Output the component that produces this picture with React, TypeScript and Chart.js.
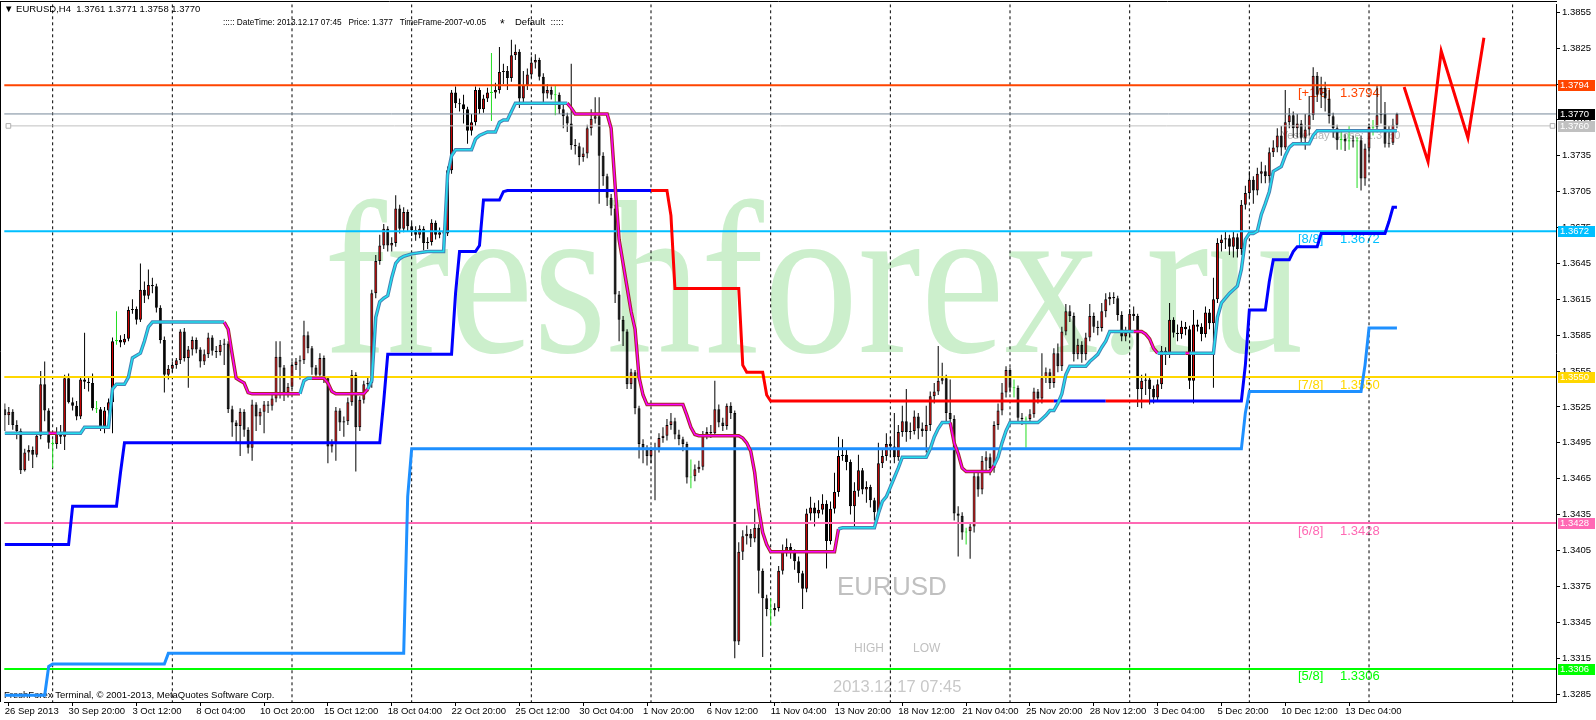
import React, { useEffect, useRef } from 'react';
import { Chart, registerables } from 'chart.js';

Chart.register(...registerables);

// ---------------- data (prices in pips above 1.3000) ----------------
const PIP = 0.0001;
const BASE = 1.3;
const firstOpenPips = 523;

const closePips = [
  518,521,510,505,472,487,489,485,501,544,
  522,495,494,504,500,549,529,526,517,548,
  546,545,524,523,509,522,529,580,581,579,
  582,606,607,598,623,618,627,626,608,581,
  552,557,560,564,588,566,573,581,573,563,
  569,583,572,571,577,578,523,512,509,521,
  506,491,527,517,521,527,526,532,567,558,
  537,542,560,563,564,585,574,558,552,566,
  549,492,495,522,512,513,529,552,508,531,
  544,545,620,647,660,674,660,662,691,674,
  688,676,673,669,674,662,663,679,669,671,
  670,723,788,779,778,774,756,763,790,774,
  783,788,788,790,805,806,800,819,822,783,
  794,803,813,815,801,787,790,786,786,774,
  768,762,744,743,734,737,758,766,768,735,
  718,700,691,619,598,588,544,554,524,494,
  491,484,489,491,499,501,510,513,502,498,
  494,466,467,473,475,502,504,503,523,512,
  509,526,520,329,404,417,419,415,424,388,
  365,356,355,357,388,404,408,403,396,386,
  373,436,441,436,439,444,413,440,454,484,
  485,479,442,455,472,456,458,447,437,478,
  484,494,492,483,504,513,504,505,517,507,
  505,510,534,538,547,549,520,515,436,434,
  420,421,425,467,456,480,483,474,510,522,
  537,556,541,541,516,515,515,519,538,532,
  549,554,545,570,559,588,605,601,569,577,
  569,583,601,592,591,605,615,617,616,602,
  584,587,603,601,540,547,548,540,533,544,
  572,569,598,587,586,592,590,547,594,592,
  586,604,595,615,662,665,666,659,667,657,
  694,704,715,706,720,722,718,738,742,752,
  742,763,769,758,762,750,757,769,802,786,
  792,783,768,758,748,749,747,748,747,748,
  716,741,759,759,769,770,745,746,761,770,
];

const highPips = [
  528,525,523,514,507,490,493,492,503,555,
  563,524,498,508,510,552,553,533,530,550,
  587,551,553,530,525,525,532,583,605,585,
  586,609,615,609,645,630,640,633,628,610,
  584,560,563,566,590,591,576,584,583,575,
  573,587,585,576,581,582,580,526,514,524,
  523,508,531,529,524,530,530,536,580,580,
  560,545,563,566,568,597,588,576,560,570,
  568,551,498,525,524,517,533,556,554,534,
  547,551,623,652,669,678,676,667,702,694,
  692,690,679,676,677,676,667,682,681,675,
  674,726,790,793,783,786,776,770,793,792,
  786,792,821,796,826,812,810,832,828,824,
  806,808,818,820,817,804,795,793,794,788,
  778,771,812,749,746,742,761,774,784,784,
  738,720,703,694,622,601,590,557,556,526,
  498,493,492,495,503,508,515,520,516,506,
  500,496,481,477,480,505,508,510,547,527,
  516,528,529,522,412,422,426,423,440,427,
  390,368,365,361,392,410,415,411,406,400,
  388,440,450,445,447,452,447,446,470,500,
  498,489,481,462,485,474,463,460,449,495,
  489,503,500,520,510,526,540,512,522,520,
  512,526,538,545,576,562,552,548,518,442,
  437,424,428,472,470,484,488,486,513,528,
  545,559,558,548,543,520,517,523,541,540,
  570,558,557,574,578,592,611,610,604,582,
  580,587,611,604,597,612,620,621,621,618,
  605,592,607,609,603,552,553,550,543,548,
  576,575,612,600,594,597,596,593,606,598,
  595,609,607,633,666,669,672,669,672,670,
  698,710,722,718,725,730,727,742,748,758,
  760,790,775,772,770,765,770,785,809,805,
  801,797,790,771,761,756,753,760,752,751,
  752,745,762,765,794,794,780,760,766,771,
];

const lowPips = [
  505,510,506,498,469,471,480,474,483,498,
  513,490,474,490,494,489,528,522,514,515,
  540,538,522,520,505,503,517,503,577,575,
  577,580,603,594,596,612,615,620,604,578,
  537,548,554,557,561,563,541,568,570,558,
  560,566,568,566,568,560,520,500,495,484,
  500,486,480,505,510,503,520,522,529,532,
  530,533,540,556,548,561,570,552,548,550,
  545,478,487,480,505,500,510,526,471,505,
  528,538,541,616,644,657,655,655,659,670,
  671,672,668,664,666,656,657,660,665,666,
  665,668,720,775,772,762,745,752,760,770,
  771,780,764,783,787,795,790,797,815,775,
  780,790,800,808,798,779,783,782,769,770,
  758,755,740,736,727,730,733,752,762,695,
  710,693,685,612,580,576,540,540,519,482,
  478,476,478,447,487,495,497,506,498,493,
  488,461,457,463,470,472,498,499,500,508,
  505,506,515,315,326,397,410,408,412,369,
  316,350,342,350,354,385,400,398,389,378,
  356,370,430,425,432,435,390,410,436,450,
  480,472,435,425,450,452,445,441,430,433,
  474,480,483,478,480,500,496,498,502,498,
  500,487,505,528,535,544,512,510,430,400,
  414,410,398,420,450,452,470,468,470,506,
  518,533,537,533,512,510,491,512,516,528,
  528,545,540,541,554,555,585,596,563,565,
  562,564,580,587,585,588,600,610,611,597,
  580,580,583,597,525,524,535,527,528,530,
  540,560,566,583,580,582,585,540,528,588,
  580,583,590,541,612,655,657,652,650,650,
  652,690,700,695,702,712,712,712,734,738,
  735,740,758,750,750,745,740,752,765,780,
  775,772,762,750,740,740,739,740,742,708,
  706,710,730,752,755,762,742,742,744,758,
];

const dojiBars = [12, 23, 28, 122, 138, 172, 192, 241, 253, 256, 335, 337, 339, 343];

const xTickBars = [1,17,33,49,65,81,97,113,129,145,161,177,193,209,225,241,257,273,289,305,321,337];
const xTickLabels = [
  '26 Sep 2013','30 Sep 20:00','3 Oct 12:00','8 Oct 04:00','10 Oct 20:00','15 Oct 12:00',
  '18 Oct 04:00','22 Oct 20:00','25 Oct 12:00','30 Oct 04:00','1 Nov 20:00','6 Nov 12:00',
  '11 Nov 04:00','13 Nov 20:00','18 Nov 12:00','21 Nov 04:00','25 Nov 20:00','28 Nov 12:00',
  '3 Dec 04:00','5 Dec 20:00','10 Dec 12:00','13 Dec 04:00',
];
const yTickValues = [
  1.3285,1.3315,1.3345,1.3375,1.3405,1.3435,1.3465,1.3495,1.3525,1.3555,
  1.3585,1.3615,1.3645,1.3675,1.3705,1.3735,1.3765,1.3795,1.3825,1.3855,
];
const weekSeparatorBars = [12,42,72,102,132,162,192,222,252,282,312,342,378];

// stepped trailing line [bar, pips]
const trailLine = [
  [0,503],[11,503],[13,503],[19,503],[20,508],[26,508],[27,540],[28,544],[30,544],[31,550],
  [32,566],[34,570],[35,580],[36,592],[37,596],[55,596],[56,590],[57,569],[58,549],[59,547],
  [60,545],[61,537],[62,536],[74,536],[75,547],[76,549],[77,549],[80,549],[81,545],[82,538],
  [83,536],[90,536],[91,540],[92,547],[93,600],[94,613],[95,616],[96,618],[97,633],[98,645],
  [99,649],[100,651],[102,653],[106,655],[110,655],[111,719],[112,735],[113,740],[117,740],[118,749],
  [119,752],[121,755],[123,755],[124,763],[125,765],[126,765],[127,772],[128,779],[141,779],[142,775],
  [143,770],[151,770],[152,758],[153,710],[154,665],[155,645],[156,625],[157,605],[158,590],[159,550],
  [160,535],[161,527],[170,527],[171,518],[172,508],[173,502],[174,501],[184,501],[185,499],[186,495],
  [187,488],[188,470],[189,440],[190,420],[191,410],[192,404],[208,404],[209,423],[210,424],[218,424],
  [219,436],[220,446],[221,450],[222,458],[223,466],[224,474],[225,483],[231,483],[232,490],[233,500],
  [234,507],[235,512],[237,512],[238,495],[239,486],[240,474],[241,471],[247,471],[248,476],[249,483],
  [250,495],[251,505],[252,512],[259,512],[260,515],[261,518],[262,522],[263,522],[264,528],[265,536],
  [266,552],[267,559],[271,559],[272,563],[273,566],[274,569],[275,575],[276,580],[277,588],[283,588],
  [285,588],[286,586],[287,582],[288,574],[289,570],[296,570],[297,570],[303,570],[304,600],[305,612],
  [306,616],[307,620],[308,623],[309,626],[310,640],[311,665],[312,670],[313,670],[314,672],[315,686],
  [316,695],[317,705],[318,722],[319,724],[320,726],[321,735],[322,742],[323,745],[327,745],[328,752],
  [329,756],[349,756],
];
const trailDownRanges = [[11,13],[55,74],[77,91],[141,209],[237,248],[283,289],[296,297]];

// channel line (blue / red) [bar, pips]
const channelLine = [
  [0,410],[16,410],[17,442],[28,442],[29,470],[30,495],[94,495],[95,530],[96,569],[112,569],
  [113,620],[114,655],[118,655],[119,660],[120,698],[124,698],[125,705],[126,706],[162,706],[166,706],
  [167,685],[168,624],[184,624],[185,560],[186,554],[190,554],[191,535],[192,530],[263,530],[276,530],
  [287,530],[310,530],[311,560],[312,606],[316,606],[317,630],[318,648],[322,648],[323,655],[324,659],
  [329,659],[330,670],[346,670],[347,680],[348,692],[349,692],
];
const channelRedRanges = [[162,263],[276,287]];

// dodger-blue support line [bar, pips]
const supportLine = [
  [0,284],[10,284],[11,308],[12,310],[40,310],[41,319],[100,319],[101,450],[102,490],[310,490],
  [311,520],[312,538],[340,538],[341,560],[342,591],[349,591],
];

// forecast zigzag [bar, pips]
const zigzagLine = [[350.8,792.5],[356.8,730],[360.1,822.6],[366.8,750],[370.8,833.7]];

const murreyPips = [794, 672, 550, 428, 306];
const murreyTags = ['[+1/8]', '[8/8]', '[7/8]', '[6/8]', '[5/8]'];
const bidPips = 770;
const yesterdayClosePips = 760;

// ---------------- helpers & styles ----------------
const toPrice = (p: number) => BASE + p * PIP;
const Y_MAX = 1.3861667;
const Y_MIN = 1.3278333;

const murreyColors = ['#ff4500', '#00bfff', '#ffd700', '#ff69b4', '#00ff00'];
const axisBoxPips = [794, 770, 760, 672, 550, 428, 306];
const axisBoxColors = ['#ff4500', '#000000', '#c0c0c0', '#00bfff', '#ffd700', '#ff69b4', '#00ff00'];

const inRanges = (x: number, ranges: number[][]) => ranges.some(([a, b]) => x >= a && x <= b);

const lineDs = (data: any[], extra: any) => ({
  type: 'line',
  data,
  pointRadius: 0,
  pointHoverRadius: 0,
  tension: 0,
  fill: false,
  borderCapStyle: 'butt',
  spanGaps: false,
  ...extra,
});

function buildDatasets() {
  const wickData: any[] = [];
  const bodyData: any[] = [];
  const wickColors: string[] = [];
  const bodyBg: string[] = [];
  const bodyBorder: string[] = [];
  closePips.forEach((c, i) => {
    const o = i === 0 ? firstOpenPips : closePips[i - 1];
    const doji = dojiBars.includes(i);
    wickData.push({ x: i, y: [toPrice(lowPips[i]), toPrice(highPips[i])] });
    if (doji) {
      const m = (o + c) / 2;
      bodyData.push({ x: i, y: [toPrice(m - 0.45), toPrice(m + 0.45)] });
      wickColors.push('#22dd22');
      bodyBg.push('#22dd22');
      bodyBorder.push('#22dd22');
    } else {
      bodyData.push({ x: i, y: [toPrice(o), toPrice(c)] });
      wickColors.push('#000000');
      bodyBg.push(c > o ? '#d40000' : '#000000');
      bodyBorder.push('#000000');
    }
  });

  const sepData: any[] = [];
  weekSeparatorBars.forEach((b) => {
    sepData.push({ x: b, y: Y_MAX }, { x: b, y: Y_MIN }, { x: b, y: null });
  });

  const pts = (arr: number[][]) => arr.map(([x, p]) => ({ x, y: toPrice(p) }));
  const hline = (p: number, color: string, width: number, order: number) =>
    lineDs([{ x: -1, y: toPrice(p) }, { x: 391, y: toPrice(p) }], { borderColor: color, borderWidth: width, order });

  const trailColor = (ctx: any, down: string, up: string) =>
    inRanges((ctx.p0.parsed.x + ctx.p1.parsed.x) / 2, trailDownRanges) ? down : up;

  return [
    lineDs(sepData, { borderColor: '#000', borderWidth: 1, borderDash: [3, 3], order: 20 }),
    {
      type: 'bar', data: wickData, backgroundColor: wickColors, borderWidth: 0,
      barThickness: 1, grouped: false, inflateAmount: 0, order: 19,
    },
    {
      type: 'bar', data: bodyData, backgroundColor: bodyBg, borderColor: bodyBorder, borderWidth: 1,
      borderSkipped: false, barThickness: 3, grouped: false, inflateAmount: 0, order: 18,
    },
    hline(murreyPips[0], '#ff4500', 2, 17),
    hline(bidPips, '#778899', 1, 17),
    lineDs([{ x: 0.9, y: toPrice(yesterdayClosePips) }, { x: 388, y: toPrice(yesterdayClosePips) }], {
      borderColor: '#c0c0c0', borderWidth: 1, pointRadius: 3.3, pointStyle: 'rect',
      pointBackgroundColor: '#ffffff', pointBorderColor: '#b0b0b0', pointBorderWidth: 1, order: 17,
    }),
    hline(murreyPips[1], '#00bfff', 2, 17),
    hline(murreyPips[2], '#ffd700', 2, 17),
    hline(murreyPips[3], '#ff69b4', 2, 17),
    hline(murreyPips[4], '#00ff00', 2, 17),
    lineDs(pts(supportLine), { borderColor: '#1e90ff', borderWidth: 3, order: 12 }),
    lineDs(pts(channelLine), {
      borderColor: '#0000ff', borderWidth: 3, order: 11,
      segment: {
        borderColor: (ctx: any) =>
          inRanges((ctx.p0.parsed.x + ctx.p1.parsed.x) / 2, channelRedRanges) ? '#ff0000' : '#0000ff',
      },
    }),
    lineDs(pts(trailLine), {
      borderColor: '#4682b4', borderWidth: 3.5, order: 10,
      segment: { borderColor: (ctx: any) => trailColor(ctx, '#a52a2a', '#4682b4') },
    }),
    lineDs(pts(trailLine), {
      borderColor: '#22e0f0', borderWidth: 1.5, order: 9,
      segment: { borderColor: (ctx: any) => trailColor(ctx, '#ff00ff', '#22e0f0') },
    }),
    lineDs(pts(zigzagLine), { borderColor: '#ff0000', borderWidth: 3, order: 8 }),
  ];
}

const overlayPlugin = {
  id: 'mt4Overlay',
  beforeDatasetsDraw(chart: any) {
    const { ctx } = chart;
    const ys = chart.scales.y;
    ctx.save();
    ctx.textAlign = 'left';
    ctx.textBaseline = 'alphabetic';
    ctx.fillStyle = '#ccefcc';
    ctx.font = '218px "Liberation Serif"';
    ctx.fillText('freshforex.ru', 324, 352, 979);

    ctx.fillStyle = '#c0c0c0';
    ctx.font = '26px "Liberation Sans"';
    ctx.fillText('EURUSD', 837, 595);
    ctx.font = '12px "Liberation Sans"';
    ctx.fillText('HIGH', 854, 652);
    ctx.fillText('LOW', 913, 652);
    ctx.fillStyle = '#c8c8c8';
    ctx.font = '16.5px "Liberation Sans"';
    ctx.fillText('2013.12.17 07:45', 833, 692);

    ctx.textBaseline = 'middle';
    ctx.font = '13px "Liberation Sans"';
    murreyPips.forEach((p, k) => {
      const y = ys.getPixelForValue(toPrice(p)) + 8;
      ctx.fillStyle = murreyColors[k];
      ctx.fillText(murreyTags[k], 1298, y);
      ctx.fillText(toPrice(p).toFixed(4), 1340, y);
    });

    ctx.fillStyle = '#b4b4b4';
    ctx.font = '11px "Liberation Sans"';
    ctx.fillText('Yesterday Close: ' + toPrice(yesterdayClosePips).toFixed(4), 1281,
      ys.getPixelForValue(toPrice(yesterdayClosePips)) + 10);

    ctx.fillStyle = '#000';
    ctx.font = '9.5px "Liberation Sans"';
    ctx.fillText('FreshForex Terminal, \u00a9 2001-2013, MetaQuotes Software Corp.', 4, 695);
    ctx.restore();
  },
  afterDraw(chart: any) {
    const { ctx, chartArea } = chart;
    const ys = chart.scales.y;
    ctx.save();
    ctx.strokeStyle = '#000';
    ctx.lineWidth = 1;
    ctx.beginPath();
    ctx.moveTo(0.5, 1.5);
    ctx.lineTo(0.5, chartArea.bottom);
    ctx.moveTo(0, 1.5);
    ctx.lineTo(chartArea.right + 1, 1.5);
    ctx.stroke();

    ctx.textAlign = 'left';
    ctx.textBaseline = 'middle';
    ctx.fillStyle = '#000';
    ctx.font = '9.5px "Liberation Sans"';
    ctx.fillText('\u25BC EURUSD,H4  1.3761 1.3771 1.3758 1.3770', 4, 9);
    ctx.fillText('::::: DateTime: 2013.12.17 07:45   Price: 1.377   TimeFrame-2007-v0.05', 223, 22, 263);
    ctx.fillText('Default  :::::', 515, 22);
    ctx.font = '12px "Liberation Sans"';
    ctx.fillText('*', 500, 25);

    ctx.font = '9.5px "Liberation Sans"';
    axisBoxPips.forEach((p, k) => {
      const y = Math.round(ys.getPixelForValue(toPrice(p)));
      ctx.fillStyle = axisBoxColors[k];
      ctx.fillRect(1558, y - 5, 37, 11);
      ctx.fillStyle = '#ffffff';
      ctx.fillText(toPrice(p).toFixed(4), 1560, y + 0.5);
    });
    ctx.restore();
  },
};

export default function App() {
  const ref = useRef<HTMLCanvasElement | null>(null);
  useEffect(() => {
    if (!ref.current) return;
    const chart = new Chart(ref.current, {
      type: 'bar',
      data: { datasets: buildDatasets() as any },
      options: {
        responsive: false,
        animation: false,
        events: [],
        layout: { padding: { top: 2, left: 0, right: 0, bottom: 0 } },
        plugins: { legend: { display: false }, tooltip: { enabled: false } },
        scales: {
          x: {
            type: 'linear',
            position: 'bottom',
            min: -0.125,
            max: 388.875,
            offset: false,
            grid: { display: true, offset: false, drawOnChartArea: false, drawTicks: true, tickLength: 4, color: '#000' },
            border: { display: true, color: '#000', width: 1 },
            ticks: {
              autoSkip: false, maxRotation: 0, minRotation: 0, align: 'start', padding: 0, labelOffset: -4,
              color: '#000', font: { family: 'Liberation Sans', size: 9.5 },
              callback: (_v: any, i: number) => xTickLabels[i] ?? '',
            },
            afterBuildTicks: (s: any) => { s.ticks = xTickBars.map((v) => ({ value: v })); },
            afterFit: (s: any) => { s.height = 18; s.paddingLeft = 0; s.paddingRight = 0; },
          } as any,
          y: {
            type: 'linear',
            position: 'right',
            min: Y_MIN,
            max: Y_MAX,
            grid: { display: true, drawOnChartArea: false, drawTicks: true, tickLength: 4, color: '#000' },
            border: { display: true, color: '#000', width: 1 },
            ticks: {
              padding: 2, color: '#000', font: { family: 'Liberation Sans', size: 9.5 },
              callback: (v: any) => Number(v).toFixed(4),
            },
            afterBuildTicks: (s: any) => { s.ticks = yTickValues.map((v) => ({ value: v })); },
            afterFit: (s: any) => { s.width = 40; s.paddingTop = 0; s.paddingBottom = 0; },
          } as any,
        },
      } as any,
      plugins: [overlayPlugin as any],
    });
    return () => chart.destroy();
  }, []);
  return (
    <div style={{ position: 'fixed', left: 0, top: 0, width: 1596, height: 720, background: '#ffffff' }}>
      <canvas ref={ref} width={1596} height={720} style={{ display: 'block', width: 1596, height: 720 }} />
    </div>
  );
}
